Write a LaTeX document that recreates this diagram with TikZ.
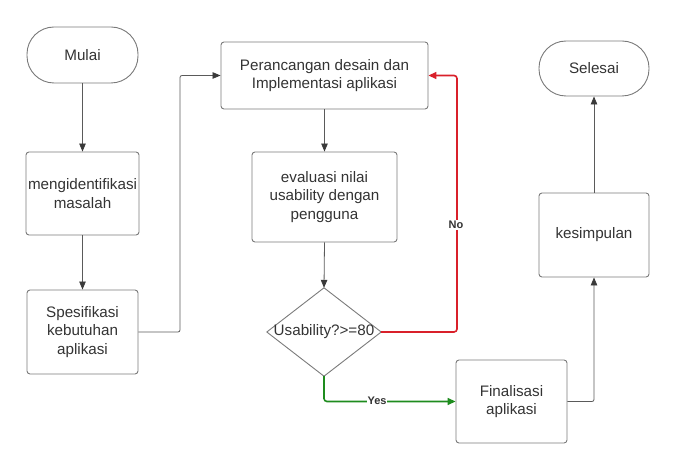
\documentclass[tikz,border=0pt]{standalone}
\usepackage{fontspec}
\setmainfont{Liberation Sans}
\usetikzlibrary{arrows.meta,calc}
\definecolor{txt}{HTML}{333333}
\definecolor{edge}{HTML}{7A7A7A}
\definecolor{conn}{HTML}{5A5A5A}
\definecolor{tipc}{HTML}{3A3A3A}
\definecolor{nored}{HTML}{D9202A}
\definecolor{yesgreen}{HTML}{1E8C1E}
\tikzset{
  box/.style={draw=edge, line width=0.9pt, rounded corners=3pt, align=center,
    text=txt, inner sep=2pt, font=\fontsize{15.2}{18.3}\selectfont},
  term/.style={box, rounded corners=27pt},
  conline/.style={draw=conn, line width=0.8pt, rounded corners=2pt,
    -{Triangle[length=8pt,width=6.5pt,fill=tipc,color=tipc]}},
  noline/.style={draw=nored, line width=1.6pt, rounded corners=3pt,
    -{Triangle[length=8pt,width=7pt]}},
  yesline/.style={draw=yesgreen, line width=1.6pt, rounded corners=3pt,
    -{Triangle[length=8pt,width=7pt]}},
  lbl/.style={fill=white, inner sep=1pt, text=txt, font=\fontsize{11}{13}\selectfont\bfseries}
}
\begin{document}
\begin{tikzpicture}[x=1pt,y=-1pt]
\useasboundingbox (0,0) rectangle (677,470);
\node[term, minimum width=111pt, minimum height=56pt] (mulai) at (82.5,55) {Mulai};
\node[box, minimum width=111pt, minimum height=83pt] (ident) at (82.5,193.5) {mengidentifikasi\\masalah};
\node[box, minimum width=111pt, minimum height=84pt] (spes) at (82.5,332) {Spesifikasi\\kebutuhan\\aplikasi};
\node[box, minimum width=207pt, minimum height=67pt] (per) at (324.5,75.5) {Perancangan desain dan\\Implementasi aplikasi};
\node[box, minimum width=145pt, minimum height=90pt] (eval) at (324.5,197) {evaluasi nilai\\usability dengan\\pengguna};
\node[minimum width=114pt, minimum height=88pt, inner sep=0pt] (dec) at (324,332) {};
\draw[draw=edge, line width=0.9pt, line join=round] (dec.north) -- (dec.east) -- (dec.south) -- (dec.west) -- cycle;
\node[text=txt, inner sep=0pt, font=\fontsize{15.2}{18.3}\selectfont] (dectext) at (dec.center) {Usability?>=80};
\node[box, minimum width=111pt, minimum height=83pt] (fin) at (511.5,401.5) {Finalisasi\\aplikasi};
\node[box, minimum width=110pt, minimum height=84pt] (kes) at (594,235) {kesimpulan};
\node[term, minimum width=110pt, minimum height=55pt] (sel) at (594,68.5) {Selesai};
\coordinate (c1) at (180,332);
\coordinate (c2) at (457,332);
\draw[conline] (mulai.south) -- (ident.north);
\draw[conline] (ident.south) -- (spes.north);
\draw[conline] (spes.east) -- (c1) |- (per.west);
\draw[conline] (per.south) -- (eval.north);
\draw[conline] (eval.south) -- (dec.north);
\draw[noline] (dec.east) -- (c2) |- (per.east);
\node[lbl] (nolbl) at (456,225) {No};
\draw[yesline] (dec.south) |- (fin.west);
\node[lbl] (yeslbl) at (377,400.5) {Yes};
\draw[conline] (fin.east) -| (kes.south);
\draw[conline] (kes.north) -- (sel.south);
\end{tikzpicture}
\end{document}
